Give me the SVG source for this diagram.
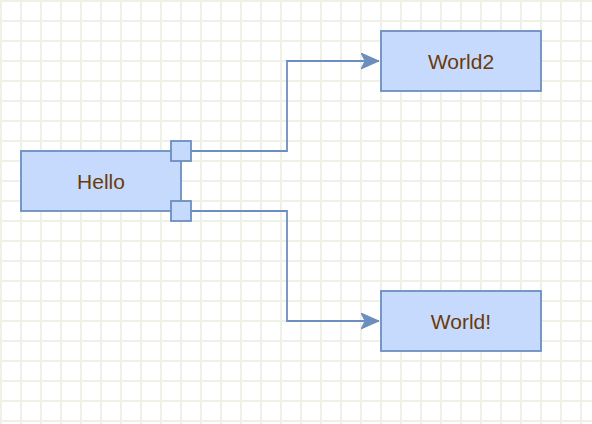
<svg xmlns="http://www.w3.org/2000/svg" width="592" height="424" viewBox="0 0 592 424">
<style>
.box{fill:#c5dafc;stroke:#6c8ebf;stroke-width:1.8}
.lbl{font-family:"Liberation Sans",Arial,sans-serif;font-size:21px;fill:#6b3a0b;text-anchor:middle}
.edge{fill:none;stroke:#6c8ebf;stroke-width:1.8}
</style>
<defs>
<pattern id="grid" width="20" height="20" patternUnits="userSpaceOnUse">
<path d="M1,0 V20 M0,1 H20" stroke="#eef2e6" stroke-width="2" fill="none"/>
</pattern>
<marker id="arr" markerWidth="20" markerHeight="20" refX="18" refY="8" orient="auto" markerUnits="userSpaceOnUse">
<path d="M18,8 L0,0 L4,8 L0,16 z" fill="#6c8ebf" stroke="#6c8ebf" stroke-width="1"/>
</marker>
</defs>
<rect width="592" height="424" fill="#ffffff"/>
<rect width="592" height="424" fill="url(#grid)"/>
<g id="connectors">
<path class="edge" d="M191,151 H287 V61 H379" marker-end="url(#arr)"/>
<path class="edge" d="M191,211 H287 V321 H379" marker-end="url(#arr)"/>
</g>
<g id="hello">
<rect class="box" x="21" y="151" width="160" height="60"/>
<text class="lbl" x="101" y="188.5">Hello</text>
</g>
<g id="port1">
<rect class="box" x="171" y="141" width="20" height="20"/>
</g>
<g id="port2">
<rect class="box" x="171" y="201" width="20" height="20"/>
</g>
<g id="world2">
<rect class="box" x="381" y="31" width="160" height="60"/>
<text class="lbl" x="461" y="68.5">World2</text>
</g>
<g id="world">
<rect class="box" x="381" y="291" width="160" height="60"/>
<text class="lbl" x="461" y="328.5">World!</text>
</g>
</svg>
